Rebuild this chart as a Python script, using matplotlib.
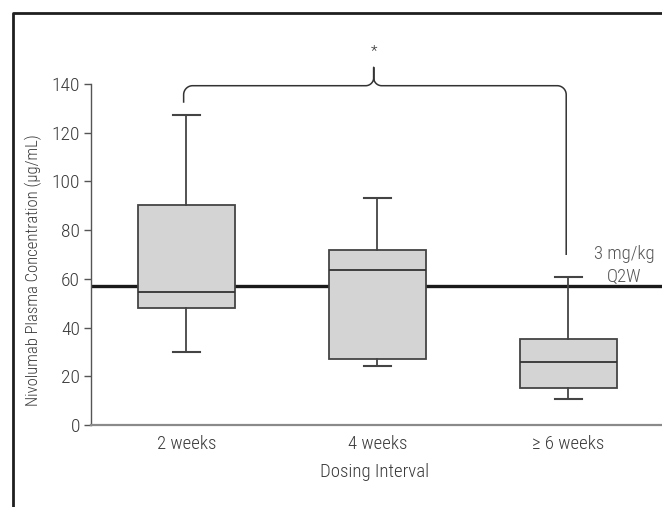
import numpy as np
import matplotlib
matplotlib.use("Agg")
import matplotlib.pyplot as plt
from matplotlib.lines import Line2D

# ---- data ----
categories = ["2 weeks", "4 weeks", "\u2265 6 weeks"]
whis_low = [30.0, 24.3, 10.7]
q1 = [47.9, 27.1, 15.2]
median = [54.7, 63.8, 25.9]
q3 = [90.3, 72.0, 35.2]
whis_high = [127.3, 93.3, 60.9]
ref_value = 57.0
ref_label = "3 mg/kg\nQ2W"
yticks = [0, 20, 40, 60, 80, 100, 120, 140]
ylabel = "Nivolumab Plasma Concentration (\u03bcg/mL)"
xlabel = "Dosing Interval"
sig_mark = "*"

plt.rcParams['font.family'] = ['Roboto Condensed', 'DejaVu Sans']
plt.rcParams['font.weight'] = 300
TXT = '#3a3a3a'

W, H = 662, 507
fig = plt.figure(figsize=(W / 100, H / 100), dpi=100)
ax_l, ax_r, ax_t, ax_b = 91, 664, 84, 425
ax = fig.add_axes([ax_l / W, 1 - ax_b / H, (ax_r - ax_l) / W, (ax_b - ax_t) / H])

positions = np.arange(1, len(categories) + 1)
stats = []
for i in range(len(categories)):
    stats.append(dict(med=median[i], q1=q1[i], q3=q3[i],
                      whislo=whis_low[i], whishi=whis_high[i], fliers=[]))

ax.axhline(ref_value, color='#1a1a1a', lw=2.4, zorder=1)

ax.bxp(stats, positions=positions, widths=0.505, capwidths=0.14,
       patch_artist=True, showfliers=False,
       boxprops=dict(facecolor='#d4d4d4', edgecolor='#444444', lw=1.3),
       medianprops=dict(color='#333333', lw=1.3),
       whiskerprops=dict(color='#444444', lw=1.3),
       capprops=dict(color='#444444', lw=1.5),
       zorder=3)

ax.set_xlim(0.5, 3.5)
ax.set_ylim(0, 140)
ax.set_yticks(yticks)
ax.set_yticklabels([str(v) for v in yticks])
ax.set_xticks(positions)
ax.set_xticklabels(categories)
ax.tick_params(axis='y', length=5, width=1, color='#555555', pad=3,
               labelsize=14, labelcolor=TXT)
ax.tick_params(axis='x', length=0, pad=7, labelsize=13.5, labelcolor=TXT)
for s in ['top', 'right']:
    ax.spines[s].set_visible(False)
ax.spines['left'].set_color('#555555')
ax.spines['left'].set_linewidth(1.0)
ax.spines['bottom'].set_color('#8a8a8a')
ax.spines['bottom'].set_linewidth(1.6)

# ---- significance bracket ----
px_per_x = (ax_r - ax_l) / 3.0
px_per_y = (ax_b - ax_t) / 140.0
r = 9.0
rx, ry = r / px_per_x, r / px_per_y
xL = positions[0] - 0.015
xR = positions[2] - 0.012
xP = (positions[0] + positions[2]) / 2 - 0.02
hb = 139.3
left_start = 132.3
peak_top = 146.8
right_end = 69.8
rp = 8.0
rpx, rpy = rp / px_per_x, rp / px_per_y

t = np.linspace(0, np.pi / 2, 20)
xs, ys = [xL], [left_start]
a = np.pi - t
xs += list(xL + rx + rx * np.cos(a)); ys += list(hb - ry + ry * np.sin(a))
a = -np.pi / 2 + t
xs += list(xP - rpx + rpx * np.cos(a)); ys += list(hb + rpy + rpy * np.sin(a))
xs += [xP]; ys += [peak_top]
xs += [xP]; ys += [hb + rpy]
a = np.pi + t
xs += list(xP + rpx + rpx * np.cos(a)); ys += list(hb + rpy + rpy * np.sin(a))
a = np.pi / 2 - t
xs += list(xR - rx + rx * np.cos(a)); ys += list(hb - ry + ry * np.sin(a))
xs += [xR]; ys += [right_end]
ax.plot(xs, ys, color='#333333', lw=1.1, clip_on=False, zorder=4,
        solid_capstyle='butt')
ax.text(xP, 153.5, sig_mark, ha='center', va='center', fontsize=11,
        color='#333333', clip_on=False)

ax.text(3.29, 65.5, ref_label, ha='center', va='center', fontsize=13.5,
        color='#555555', linespacing=1.35)

fig.text(33 / W, 1 - 270 / H, ylabel, rotation=90, ha='center', va='center',
         fontsize=12, color=TXT)
fig.text(375 / W, 1 - 472 / H, xlabel, ha='center', va='center',
         fontsize=13.5, color=TXT)

# ---- outer frame ----
fx, fy = 12.7 / W, 1 - 12.5 / H
fig.add_artist(Line2D([1.01, fx, fx], [fy, fy, -0.01], color='#1f1f1f',
                      lw=2.0, transform=fig.transFigure))

fig.savefig("out.png", dpi=100)
